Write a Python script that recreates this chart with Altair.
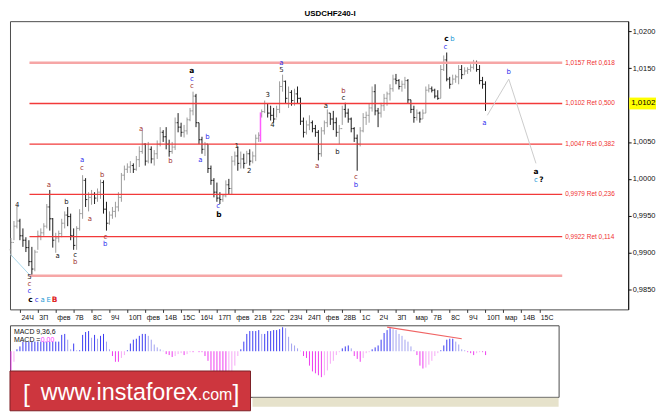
import altair as alt
import numpy as np
import pandas as pd

PLOT_W = 622
PLOT_H = 290
MACD_W = 552
MACD_H = 72
FONT = "Liberation Sans"

# USDCHF H4 bars, in pips (price x 10000)
bar_open = [
    9904, 9914, 9936, 9943, 9923, 9917, 9907, 9888, 9878, 9901,
    9923, 9927, 9936, 9962, 9946, 9917, 9920, 9926, 9940, 9951,
    9949, 9923, 9910, 9933, 9953, 9998, 9972, 9975, 9979, 9974,
    9982, 9995, 9959, 9940, 9951, 9956, 9962, 9975, 10005, 10013,
    10016, 10018, 10013, 10026, 10037, 10047, 10024, 10040, 10027, 10034,
    10047, 10063, 10057, 10047, 10037, 10043, 10076, 10070, 10063, 10065,
    10080, 10092, 10112, 10076, 10053, 10040, 10047, 10014, 9998, 9982,
    9974, 9972, 9977, 9992, 9987, 10024, 10031, 10021, 10027, 10021,
    10034, 10024, 10031, 10055, 10086, 10091, 10102, 10089, 10086, 10081,
    10094, 10125, 10132, 10109, 10117, 10106, 10115, 10109, 10078, 10063,
    10073, 10076, 10068, 10063, 10034, 10065, 10076, 10089, 10081, 10076,
    10063, 10068, 10094, 10089, 10081, 10068, 10055, 10047, 10065, 10083,
    10086, 10096, 10118, 10092, 10089, 10099, 10109, 10115, 10122, 10135,
    10133, 10125, 10128, 10133, 10107, 10094, 10083, 10089, 10081, 10089,
    10120, 10122, 10120, 10112, 10109, 10148, 10161, 10135, 10128, 10135,
    10138, 10148, 10141, 10146, 10148, 10151, 10156, 10148, 10133, 10128,
]
bar_high = [
    9920, 9943, 9965, 9946, 9933, 9921, 9917, 9908, 9904, 9930,
    9933, 9940, 9966, 9985, 9947, 9927, 9930, 9946, 9956, 9962,
    9953, 9933, 9936, 9959, 10005, 10001, 9982, 9985, 9982, 9987,
    9999, 9998, 9969, 9956, 9962, 9969, 9982, 10008, 10018, 10021,
    10024, 10021, 10031, 10044, 10065, 10048, 10050, 10044, 10039, 10052,
    10070, 10066, 10070, 10053, 10050, 10083, 10089, 10076, 10073, 10083,
    10096, 10118, 10115, 10076, 10057, 10050, 10047, 10018, 10001, 9995,
    9982, 9979, 9998, 10000, 10031, 10037, 10044, 10037, 10034, 10038,
    10040, 10037, 10060, 10063, 10094, 10106, 10102, 10099, 10096, 10099,
    10132, 10141, 10133, 10125, 10120, 10122, 10125, 10110, 10083, 10079,
    10086, 10079, 10073, 10066, 10070, 10079, 10094, 10089, 10092, 10083,
    10073, 10099, 10103, 10095, 10083, 10070, 10060, 10070, 10089, 10091,
    10102, 10125, 10128, 10096, 10103, 10115, 10118, 10128, 10141, 10142,
    10135, 10133, 10138, 10135, 10107, 10099, 10094, 10091, 10094, 10125,
    10128, 10125, 10122, 10120, 10154, 10167, 10171, 10138, 10141, 10141,
    10154, 10154, 10151, 10151, 10155, 10161, 10160, 10154, 10138, 10132,
]
bar_low = [
    9895, 9917, 9933, 9917, 9908, 9901, 9882, 9869, 9875, 9904,
    9917, 9923, 9933, 9930, 9907, 9900, 9914, 9921, 9933, 9936,
    9917, 9904, 9904, 9930, 9946, 9962, 9956, 9965, 9966, 9969,
    9973, 9953, 9930, 9938, 9946, 9948, 9956, 9969, 9998, 10008,
    10008, 10008, 10011, 10016, 10034, 10018, 10021, 10021, 10018, 10027,
    10044, 10050, 10040, 10030, 10034, 10039, 10063, 10057, 10056, 10060,
    10078, 10086, 10070, 10047, 10034, 10031, 10008, 9992, 9975, 9969,
    9966, 9969, 9975, 9979, 9979, 10018, 10011, 10014, 10014, 10021,
    10018, 10021, 10024, 10050, 10083, 10089, 10083, 10079, 10076, 10083,
    10089, 10118, 10102, 10096, 10099, 10099, 10102, 10073, 10056, 10060,
    10066, 10063, 10057, 10025, 10030, 10060, 10070, 10073, 10066, 10057,
    10047, 10073, 10083, 10076, 10063, 10050, 10011, 10044, 10063, 10073,
    10076, 10091, 10086, 10070, 10083, 10092, 10099, 10106, 10118, 10128,
    10121, 10118, 10122, 10102, 10089, 10076, 10079, 10076, 10081, 10089,
    10117, 10117, 10109, 10107, 10109, 10146, 10132, 10122, 10128, 10130,
    10128, 10135, 10141, 10142, 10145, 10148, 10145, 10128, 10122, 10092,
]
bar_close = [
    9914, 9936, 9943, 9923, 9917, 9907, 9888, 9878, 9901, 9923,
    9927, 9936, 9962, 9946, 9917, 9920, 9926, 9940, 9951, 9949,
    9923, 9910, 9933, 9953, 9998, 9972, 9975, 9979, 9974, 9982,
    9995, 9959, 9940, 9951, 9956, 9962, 9975, 10005, 10013, 10016,
    10018, 10013, 10026, 10037, 10047, 10024, 10040, 10027, 10034, 10047,
    10063, 10057, 10047, 10037, 10043, 10076, 10070, 10063, 10065, 10080,
    10092, 10112, 10076, 10053, 10040, 10047, 10014, 9998, 9982, 9974,
    9972, 9977, 9992, 9987, 10024, 10031, 10021, 10027, 10021, 10034,
    10024, 10031, 10055, 10059, 10091, 10102, 10089, 10086, 10081, 10094,
    10125, 10132, 10109, 10117, 10106, 10115, 10109, 10078, 10063, 10073,
    10076, 10068, 10063, 10034, 10065, 10076, 10089, 10081, 10076, 10063,
    10068, 10094, 10089, 10081, 10068, 10055, 10047, 10065, 10083, 10086,
    10096, 10118, 10092, 10089, 10099, 10109, 10115, 10122, 10135, 10133,
    10125, 10128, 10133, 10107, 10094, 10083, 10089, 10081, 10089, 10120,
    10122, 10120, 10112, 10109, 10148, 10161, 10135, 10128, 10135, 10138,
    10148, 10141, 10146, 10148, 10151, 10156, 10148, 10133, 10128, 10102,
]

# MACD(9,36,6) histogram from the lower pane (x 1e-5)
macd_hist = [
    -20, -11, 2, 5, 10, 10, 10, 10, 10, 10,
    10, 10, 10, 10, 10, 10, 10, 17, 18, 12,
    2, 8, 1, 1, 17, 20, 21, 14, 17, 13,
    16, 18, 10, 2, -5, -11, -11, -7, -4, 1,
    8, 12, 13, 16, 18, 18, 16, 12, 7, 4,
    2, 0.5, -3, -4, -6, -5, -3, -2, -4, -3,
    -1, -1, 0, -1, -1, -5, -10, -20, -23, -25,
    -27, -28, -28, -26, -22, -15, -5, 2, 10, 18,
    21, 21, 21, 22, 18, 18, 21, 21, 22, 22,
    23, 25, 24, 15, 8, 6, 3, 0.5, -5, -7,
    -15, -21, -23, -25, -27, -25, -20, -13, -10, -4,
    -1, 3, 5, 6, 3, -5, -8, -11, -7, -2,
    -1, 2, 4, 6, 12, 19, 22, 24, 23, 22,
    18, 16, 12, 10, 5, 1, -4, -15, -18, -17,
    -14, -10, -5, -2, 1, 6, 12, 13, 13, 10,
    7, 2, 1, -1, -2, -4, -2, -1, -1, -4,
]
macd_trend_pos = [126, 151]
macd_trend_val = [25, 13]

# retracement grid
fib_levels = [1.0157, 1.0102, 1.0047, 0.9979, 0.9922, 0.9869]
fib_ratios = ["0,618", "0,500", "0,382", "0,236", "0,114", ""]
fib_kind = ["outer", "inner", "inner", "inner", "inner", "outer"]
FIB_START, FIB_END = 6.2, 184.7

price_ticks = [0.985, 0.990, 0.995, 1.000, 1.005, 1.015, 1.020]
day_labels = ["24Ч", "3П", "фев", "7В", "8С", "9Ч", "10П", "фев", "14В", "15С",
              "16Ч", "17П", "фев", "21В", "22С", "23Ч", "24П", "фев", "28В", "1С",
              "2Ч", "3П", "мар", "7В", "8С", "9Ч", "10П", "мар", "14В", "15С"]

# wave marks: bar position, price, text, degree
wave_pos = [2.1, 6.2, 6.2, 6.2, 6.5, 8.6, 10.6, 12.6, 14.6, 12.7,
            15.6, 18.6, 21.5, 21.5, 23.8, 23.8, 26.4, 30.6, 31.6, 31.6,
            43.6, 53.4, 60.6, 60.6, 60.6, 65.8, 63.5, 69.4, 69.7, 75.6,
            79.8, 86.0, 87.6, 90.6, 90.6, 102.6, 105.5, 109.4, 111.4, 111.4,
            115.6, 115.6, 145.9, 147.9, 145.6, 158.6, 166.8, 175.9, 175.9, 177.7]
wave_price = [0.9964, 0.9867, 0.9858, 0.9848, 0.9836, 0.9836, 0.9836, 0.9836, 0.9836, 0.9992,
              0.9895, 0.9969, 0.9897, 0.9887, 1.0025, 1.0015, 0.9946, 1.0005, 0.9922, 0.9912,
              1.0068, 1.0024, 1.0146, 1.0135, 1.0125, 1.0056, 1.0026, 0.9963, 0.9951, 1.0044,
              1.0011, 1.0113, 1.0073, 1.0157, 1.0147, 1.0017, 1.0099, 1.0037, 1.0119, 1.0109,
              1.0003, 0.9992, 1.0189, 1.0189, 1.0179, 1.0076, 1.0145, 1.0009, 0.9999, 0.9999]
wave_text = ["4", "5", "c", "c", "c", "c", "a", "E", "B", "a",
             "a", "b", "c", "b", "a", "c", "a", "b", "c", "b",
             "a", "b", "a", "c", "c", "b", "a", "c", "b", "1",
             "2", "3", "4", "a", "5", "a", "a", "b", "b", "c",
             "c", "b", "c", "b", "c", "a", "b", "a", "c", "?"]
wave_degree = ["minuette", "minuette", "minute", "minor", "primary", "minor", "cycle", "cycle", "supercycle", "minute",
               "minuette", "minuette", "minuette", "minute", "minor", "minute", "minute", "minute", "minute", "minor",
               "minute", "minute", "primary", "minor", "minute", "minor", "minor", "minor", "primary", "minuette",
               "minuette", "minuette", "minuette", "minor", "minuette", "minute", "minuette", "minuette", "minute", "minuette",
               "minute", "minor", "primary", "cycle", "minor", "minor", "minor", "primary", "cycle", "primary"]

# expected path after the last bar
forecast_pos = [159.6, 166.8, 175.9]
forecast_price = [1.0086, 1.0135, 1.0021]
# thin connector at the left edge and the marked gap bar
connector_pos = [-0.65, 6.5]
connector_price = [0.9900, 0.9869]
gap_pos = [83.6]
gap_low = [1.0050]
gap_high = [1.0090]

# ---------------- price pane ----------------
bars = pd.DataFrame({
    "i": np.arange(len(bar_close)),
    "o": np.array(bar_open) / 10000,
    "h": np.array(bar_high) / 10000,
    "l": np.array(bar_low) / 10000,
    "c": np.array(bar_close) / 10000,
})
bars["dir"] = np.where(bars["c"] >= bars["o"], "up", "down")
bars["il"] = bars["i"] - 0.45
bars["ir"] = bars["i"] + 0.45

x_scale = alt.Scale(domain=[-0.33, 206.8], nice=False, zero=False)
y_scale = alt.Scale(domain=[0.98234, 1.02134], nice=False, zero=False)
tick_pos = [3 + 6 * k for k in range(len(day_labels))]
label_js = "[" + ",".join(f"'{d}'" for d in day_labels) + "]"
x_axis = alt.Axis(
    values=tick_pos, labelExpr=f"{label_js}[round((datum.value - 3) / 6)]",
    title=None, tickSize=3, labelAlign="left", labelPadding=1, labelOffset=1,
    labelOverlap=False, labelFlush=False, labelFontSize=7, labelFont=FONT,
    labelColor="#111", tickColor="#333", domain=False, grid=False,
)
y_axis = alt.Axis(
    orient="right", values=price_ticks,
    labelExpr="replace(format(datum.value, '.4f'), '.', ',')",
    title=None, tickSize=3, labelPadding=1, labelFontSize=7.5, labelFont=FONT,
    labelColor="#111", tickColor="#111", domainColor="#111", grid=False,
)


def X(field):
    return alt.X(field, type="quantitative", scale=x_scale, axis=x_axis)


def Y(field):
    return alt.Y(field, type="quantitative", scale=y_scale, axis=y_axis)


fib = pd.DataFrame({"p": fib_levels, "ratio": fib_ratios, "kind": fib_kind})
fib["x0"] = FIB_START
fib["x1"] = FIB_END
fib["label"] = [
    (f"{p:.4f}".replace(".", ",") + " Ret " + r) if r else "" for p, r in zip(fib_levels, fib_ratios)
]

fib_outer = alt.Chart(fib).transform_filter("datum.kind == 'outer'").mark_rule(
    color="#f6a6a6", strokeWidth=2.5
).encode(x=X("x0"), x2="x1", y=Y("p"))
fib_inner = alt.Chart(fib).transform_filter("datum.kind == 'inner'").mark_rule(
    color="#f23a3a", strokeWidth=1.3
).encode(x=X("x0"), x2="x1", y=Y("p"))
fib_text = alt.Chart(fib).transform_filter("datum.label != ''").mark_text(
    align="left", baseline="middle", dx=3, fontSize=6.5, font=FONT, color="#f03030"
).encode(x=X("x1"), y=Y("p"), text="label:N")

bar_color = alt.Color("dir:N", scale=alt.Scale(domain=["up", "down"], range=["#9c9c9c", "#1c1c1c"]), legend=None)
base = alt.Chart(bars)
wick = base.mark_rule(strokeWidth=1).encode(x=X("i"), y=Y("l"), y2="h", color=bar_color)
open_tick = base.mark_rule(strokeWidth=1).encode(x=X("il"), x2="i", y=Y("o"), color=bar_color)
close_tick = base.mark_rule(strokeWidth=1).encode(x=X("i"), x2="ir", y=Y("c"), color=bar_color)

gap = alt.Chart(pd.DataFrame({"i": gap_pos, "lo": gap_low, "hi": gap_high})).mark_rule(
    color="#ff5cff", strokeWidth=1.5
).encode(x=X("i"), y=Y("lo"), y2="hi")

connector = alt.Chart(pd.DataFrame({"i": connector_pos, "p": connector_price})).mark_line(
    color="#a8d8ea", strokeWidth=1, clip=True
).encode(x=X("i"), y=Y("p"))

forecast = alt.Chart(pd.DataFrame({"i": forecast_pos, "p": forecast_price})).mark_line(
    color="#cccccc", strokeWidth=1
).encode(x=X("i"), y=Y("p"))

waves = pd.DataFrame({"i": wave_pos, "p": wave_price, "t": wave_text, "deg": wave_degree})
deg_scale = alt.Scale(
    domain=["primary", "minuette", "minor", "minute", "cycle", "supercycle"],
    range=["#000000", "#222222", "#3434ee", "#a23838", "#1e9ad6", "#e02424"],
)
wave_bold = alt.Chart(waves).transform_filter("datum.deg == 'primary' || datum.deg == 'supercycle'").mark_text(
    fontSize=7.5, font="DejaVu Sans", fontWeight="bold", baseline="middle"
).encode(x=X("i"), y=Y("p"), text="t:N", color=alt.Color("deg:N", scale=deg_scale, legend=None))
wave_reg = alt.Chart(waves).transform_filter("datum.deg != 'primary' && datum.deg != 'supercycle'").mark_text(
    fontSize=7, font="DejaVu Sans", baseline="middle"
).encode(x=X("i"), y=Y("p"), text="t:N", color=alt.Color("deg:N", scale=deg_scale, legend=None))

last = pd.DataFrame({"p": [bar_close[-1] / 10000]})
last["top"] = last["p"] + 0.0008
last["bot"] = last["p"] - 0.0008
last["label"] = last["p"].map(lambda v: f"{v:.4f}".replace(".", ","))
tag_box = alt.Chart(last).mark_rect(color="#ffff00").encode(
    x=alt.value(PLOT_W + 1), x2=alt.value(PLOT_W + 28), y=Y("top"), y2="bot"
)
tag_text = alt.Chart(last).mark_text(align="left", baseline="middle", fontSize=8, font=FONT, color="#000").encode(
    x=alt.value(PLOT_W + 3), y=Y("p"), text="label:N"
)

main = (
    alt.layer(connector, wick, open_tick, close_tick, fib_outer, fib_inner, gap, forecast,
              fib_text, wave_reg, wave_bold, tag_box, tag_text)
    .resolve_scale(color="independent")
    .properties(
        width=PLOT_W, height=PLOT_H,
        title=alt.Title("USDCHF240-I", fontSize=8, font=FONT, fontWeight="bold",
                        anchor="middle", dx=11, offset=3, color="#000"),
    )
)

# ---------------- MACD pane ----------------
hist = pd.DataFrame({"i": np.arange(len(macd_hist)), "h": macd_hist})
prev = hist["h"].shift(1).fillna(0)
hist["state"] = np.where(
    hist["h"] >= 0,
    np.where(hist["h"] >= prev, "pos_up", "pos_down"),
    np.where(hist["h"] <= prev, "neg_down", "neg_up"),
)
hist["zero"] = 0.0

mx = alt.Scale(domain=[-0.33, 183.46], nice=False, zero=False)
my = alt.Scale(domain=[-47.5, 27], nice=False, zero=False)

macd_bars = alt.Chart(hist).mark_rule(strokeWidth=1).encode(
    x=alt.X("i:Q", scale=mx, axis=None),
    y=alt.Y("zero:Q", scale=my, axis=None),
    y2="h",
    color=alt.Color("state:N", legend=None, scale=alt.Scale(
        domain=["pos_up", "pos_down", "neg_down", "neg_up"],
        range=["#3b3bf2", "#a2a2f0", "#ee3cee", "#f6a8f6"])),
)
macd_trend = alt.Chart(pd.DataFrame({"i": macd_trend_pos, "v": macd_trend_val})).mark_line(
    color="#f06464", strokeWidth=1.2
).encode(x=alt.X("i:Q", scale=mx, axis=None), y=alt.Y("v:Q", scale=my, axis=None))


def note(text, x, y, color="#111", size=7, align="left", **kw):
    return alt.Chart(pd.DataFrame({"t": [text]})).mark_text(
        align=align, baseline="alphabetic", fontSize=size, font=FONT, color=color, **kw
    ).encode(x=alt.value(x), y=alt.value(y), text="t:N")


one = pd.DataFrame({"k": [0]})
strip = alt.Chart(one).mark_rect(color="#e6e2cb").encode(
    x=alt.value(244), x2=alt.value(MACD_W), y=alt.value(MACD_H + 1), y2=alt.value(MACD_H + 10)
)
banner = alt.Chart(one).mark_rect(color="#cd363e", stroke="#7c2026", strokeWidth=1).encode(
    x=alt.value(0), x2=alt.value(242), y=alt.value(46), y2=alt.value(86)
)

bottom = (
    alt.layer(
        macd_bars, macd_trend, strip,
        note("MACD 9,36,6", 4, 9),
        note("MACD =", 4, 17),
        note("0,00", 31, 17, color="#ff33ff"),
        banner,
        note("[", 13, 77, color="#fff", size=25),
        note("www.instaforex", 31, 75, color="#fff", size=23.5),
        note(".com", 189, 75, color="#fff", size=16),
        note("]", 224, 77, color="#fff", size=25),
    )
    .properties(width=MACD_W, height=MACD_H)
)

chart = (
    alt.vconcat(main, bottom, spacing=3)
    .resolve_scale(x="independent", y="independent", color="independent")
    .properties(padding=0, background="#ffffff")
    .configure_view(stroke="#4c4c4c", strokeWidth=1)
)

chart.save("out.html", embed_options={"renderer": "svg", "actions": False})
